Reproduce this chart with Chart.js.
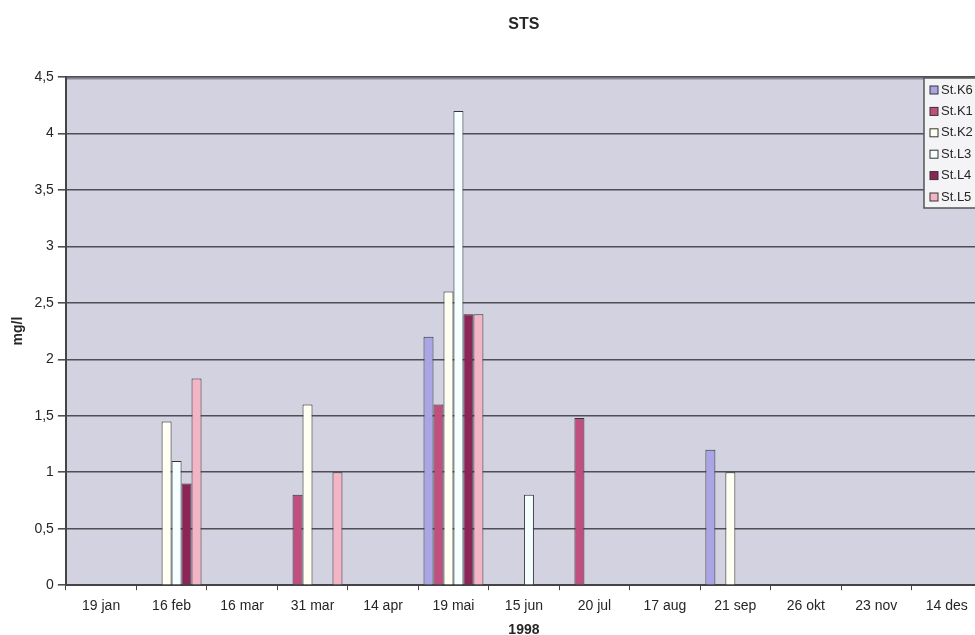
<!DOCTYPE html>
<html>
<head>
<meta charset="utf-8">
<script src="https://cdn.jsdelivr.net/npm/chart.js@4.4.0/dist/chart.umd.min.js"></script>
<style>
  html, body { margin: 0; padding: 0; background: #ffffff; overflow: hidden; width: 975px; height: 635px; }
  #wrap { position: absolute; left: 0; top: 0; width: 1060px; height: 639px; }
</style>
</head>
<body>
<div id="wrap"><canvas id="c"></canvas></div>
<script>
const categories = ['19 jan','16 feb','16 mar','31 mar','14 apr','19 mai','15 jun','20 jul','17 aug','21 sep','26 okt','23 nov','14 des'];
const seriesNames = ['St.K6','St.K1','St.K2','St.L3','St.L4','St.L5'];
const stK6 = [null, null, null, null, null, 2.2, null, null, null, 1.2, null, null, null];
const stK1 = [null, null, null, 0.8, null, 1.6, null, 1.48, null, null, null, null, null];
const stK2 = [null, 1.45, null, 1.6, null, 2.6, null, null, null, 1.0, null, null, null];
const stL3 = [null, 1.1, null, null, null, 4.2, 0.8, null, null, null, null, null, null];
const stL4 = [null, 0.9, null, null, null, 2.4, null, null, null, null, null, null, null];
const stL5 = [null, 1.83, null, 1.0, null, 2.4, null, null, null, null, null, null, null];
const yTickLabels = ['0','0,5','1','1,5','2','2,5','3','3,5','4','4,5'];
const titleText = 'STS';
const xTitle = '1998';
const yTitle = 'mg/l';

const seriesValues = [stK6, stK1, stK2, stL3, stL4, stL5];
const seriesColors = ['#aaa6e6', '#c04e7e', '#fffff2', '#f6ffff', '#8c2457', '#f3b5c5'];
const FONT = '"Liberation Sans", Arial, sans-serif';
const TEXT = '#262626';

const bgPlugin = {
  id: 'plotBg',
  beforeDraw(chart) {
    const {ctx, chartArea: a} = chart;
    ctx.save();
    ctx.fillStyle = '#d2d2e1';
    ctx.fillRect(a.left, a.top, a.right - a.left, a.bottom - a.top);
    ctx.strokeStyle = '#8a8a96';
    ctx.lineWidth = 3;
    ctx.beginPath();
    ctx.moveTo(a.left, a.top + 1);
    ctx.lineTo(a.right, a.top + 1);
    ctx.stroke();
    ctx.restore();
  }
};

const legendPlugin = {
  id: 'insideLegend',
  afterDatasetsDraw(chart) {
    const {ctx, chartArea: a} = chart;
    const x = a.right - 58, y = a.top + 1;
    ctx.save();
    ctx.fillStyle = '#f4f4f6';
    ctx.fillRect(x, y, 90, 130);
    ctx.strokeStyle = '#555';
    ctx.lineWidth = 1.5;
    ctx.strokeRect(x, y, 90, 130);
    ctx.font = '13px ' + FONT;
    ctx.textBaseline = 'middle';
    chart.data.datasets.forEach((ds, i) => {
      const cy = y + 12 + i * 21.4;
      ctx.fillStyle = ds.backgroundColor;
      ctx.fillRect(x + 6, cy - 4, 8, 8);
      ctx.strokeStyle = '#333';
      ctx.lineWidth = 1;
      ctx.strokeRect(x + 6, cy - 4, 8, 8);
      ctx.fillStyle = TEXT;
      ctx.fillText(ds.label, x + 17, cy);
    });
    ctx.restore();
  }
};

new Chart(document.getElementById('c'), {
  type: 'bar',
  data: {
    labels: categories,
    datasets: seriesNames.map((name, i) => ({
      label: name,
      data: seriesValues[i],
      backgroundColor: seriesColors[i],
      borderColor: '#333333',
      borderWidth: 1,
      categoryPercentage: 0.85,
      barPercentage: 1.0
    }))
  },
  options: {
    responsive: true,
    maintainAspectRatio: false,
    animation: false,
    layout: { padding: { left: 7, right: 78, top: 0, bottom: 0 } },
    plugins: {
      legend: { display: false },
      tooltip: { enabled: false },
      title: {
        display: true,
        fullSize: false,
        text: titleText,
        color: TEXT,
        font: { family: FONT, size: 16, weight: 'bold' },
        padding: { top: 15.4, bottom: 42.4 }
      }
    },
    scales: {
      x: {
        offset: true,
        grid: { display: true, drawOnChartArea: false, drawTicks: true, tickLength: 5, color: '#444', offset: true },
        border: { display: true, color: '#444', width: 2 },
        ticks: { color: TEXT, font: { family: FONT, size: 14 }, padding: 7.6, maxRotation: 0, autoSkip: false },
        title: { display: true, text: xTitle, color: TEXT, font: { family: FONT, size: 14, weight: 'bold' }, padding: { top: 0, bottom: 0 } }
      },
      y: {
        min: 0,
        max: 4.5,
        ticks: {
          stepSize: 0.5,
          color: TEXT,
          font: { family: FONT, size: 14 },
          padding: 4,
          callback: (v, i) => yTickLabels[i]
        },
        grid: { color: '#4e4e56', lineWidth: 1.6, tickLength: 8, drawTicks: true },
        border: { display: true, color: '#444', width: 2 },
        title: { display: true, text: yTitle, color: TEXT, font: { family: FONT, size: 14, weight: 'bold' }, padding: { top: 2.6, bottom: 4 } }
      }
    }
  },
  plugins: [bgPlugin, legendPlugin]
});
</script>
</body>
</html>
